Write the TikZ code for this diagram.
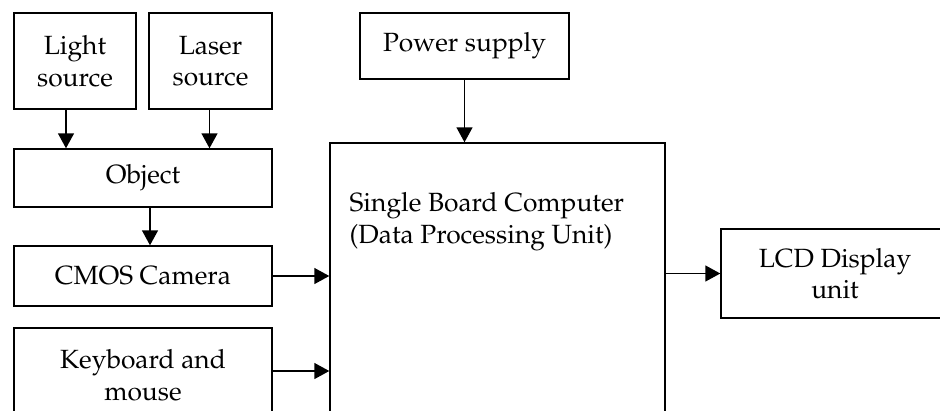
\documentclass[tikz,border=0pt]{standalone}
\usepackage[T1]{fontenc}
\usepackage{mathpazo}
\usetikzlibrary{arrows.meta, positioning}

\begin{document}
\begin{tikzpicture}[
        block/.style={rectangle, draw, line width=0.8pt, inner sep=0pt, align=center,
            font=\fontsize{15}{18}\selectfont},
        arr/.style={-{Triangle[length=0.3cm, width=0.32cm]}, line width=0.8pt}
    ]
        \clip (0,0) rectangle (18.8,-8.2);

        % Inputs
        \node[block, minimum width=2.44cm, minimum height=1.92cm] (light) at (1.5, -1.22) {Light\\source};
        \node[block, minimum width=2.46cm, minimum height=1.92cm] (laser) at (4.21, -1.22) {Laser\\source};
        \node[block, minimum width=5.16cm, minimum height=1.16cm] (object) at (2.86, -3.56) {Object};
        \node[block, minimum width=5.16cm, minimum height=1.2cm] (cmos) at (2.86, -5.52) {CMOS Camera};
        \node[block, minimum width=5.16cm, minimum height=1.88cm] (keyboard) at (2.86, -7.5) {Keyboard and\\mouse};

        % Processing
        \node[block, minimum width=4.18cm, minimum height=1.32cm] (power) at (9.29, -0.92) {Power supply};
        \node[block, minimum width=6.7cm, minimum height=9cm] (sbc) at (9.95, -7.36) {};
        \node[font=\fontsize{15}{18}\selectfont, align=left, anchor=north west, inner sep=0pt]
            (sbctext) at ([xshift=0.4cm, yshift=-1.0cm]sbc.north west) {Single Board Computer\\(Data Processing Unit)};

        % Output
        \node[block, minimum width=4.56cm, minimum height=1.78cm] (lcd) at (16.7, -5.47) {LCD Display\\unit};

        % Arrows
        \draw[arr] ([xshift=-0.18cm]light.south) -- ([xshift=-0.18cm]light.south |- object.north);
        \draw[arr] ([xshift=-0.02cm]laser.south) -- ([xshift=-0.02cm]laser.south |- object.north);
        \draw[arr] ([xshift=0.14cm]object.south) -- ([xshift=0.14cm]object.south |- cmos.north);
        \draw[arr] (power.south) -- (power.south |- sbc.north);

        \draw[arr] (cmos.east) -- (cmos.east -| sbc.west);
        \draw[arr] ([yshift=0.08cm]keyboard.east) -- ([yshift=0.08cm]keyboard.east -| sbc.west);
        \draw[arr] (sbc.east |- lcd.west) -- (lcd.west);
    \end{tikzpicture}
\end{document}
